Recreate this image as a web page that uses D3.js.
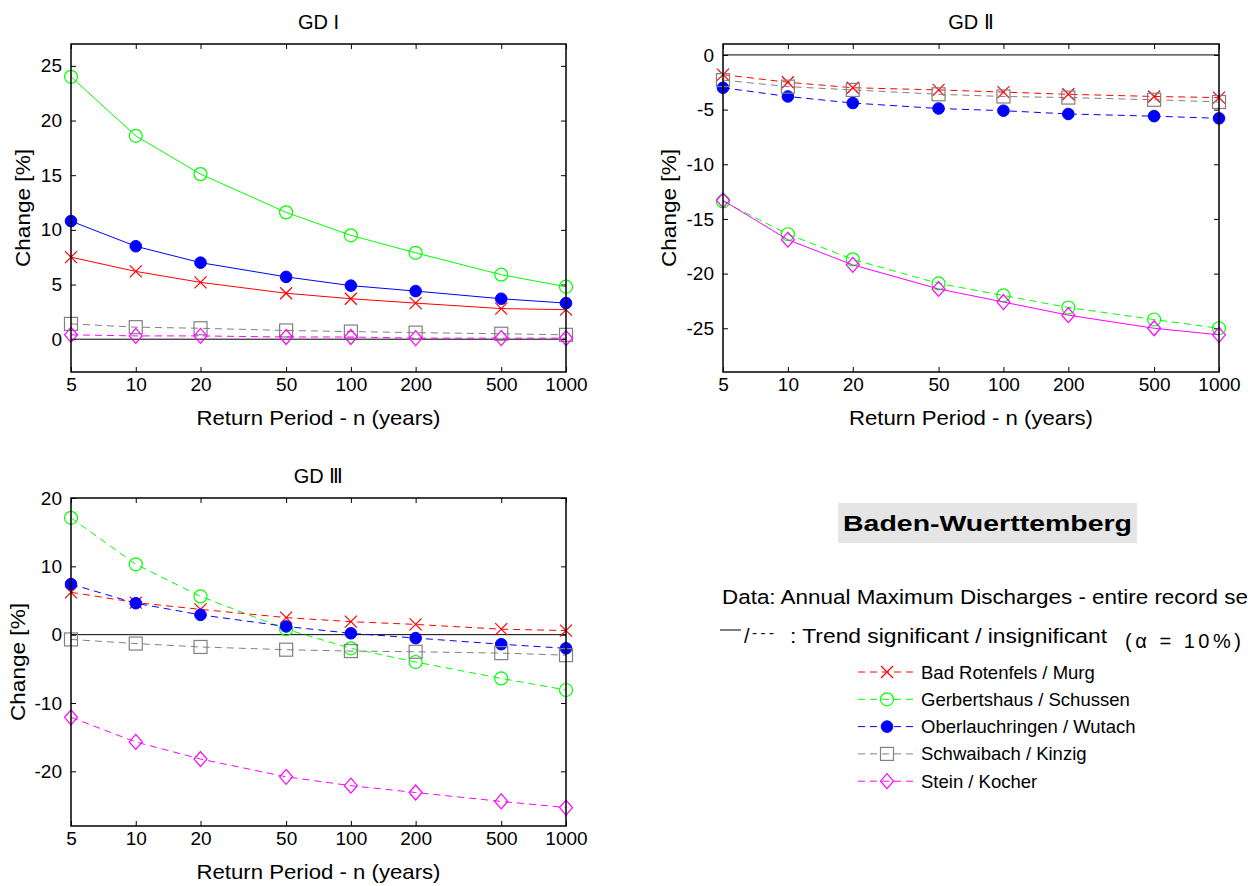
<!DOCTYPE html>
<html>
<head>
<meta charset="utf-8">
<script src="https://cdn.jsdelivr.net/npm/d3@7"></script>
<style>
  body { margin: 0; background: #fff; }
  svg { display: block; font-family: Arial, "Liberation Sans", Helvetica, sans-serif; }
</style>
</head>
<body>
<div id="chart"></div>
<script>
// return periods (x axis, log scale)
let periods = [5, 10, 20, 50, 100, 200, 500, 1000]

let stations = [
    "Bad Rotenfels / Murg",
    "Gerbertshaus / Schussen",
    "Oberlauchringen / Wutach",
    "Schwaibach / Kinzig",
    "Stein / Kocher"
]
let stationColors = ["#ff0000", "#00ff00", "#0000ff", "#808080", "#ff00ff"]
let stationMarkers = ["x", "circle", "dot", "square", "diamond"]

// GD I values [%] per station
let gd1Values = [
    [7.5, 6.2, 5.2, 4.2, 3.7, 3.3, 2.8, 2.7],
    [24.0, 18.6, 15.1, 11.6, 9.5, 7.9, 5.9, 4.8],
    [10.8, 8.5, 7.0, 5.7, 4.9, 4.4, 3.7, 3.3],
    [1.4, 1.1, 1.0, 0.8, 0.7, 0.6, 0.5, 0.4],
    [0.4, 0.3, 0.3, 0.2, 0.2, 0.1, 0.1, 0.1]
]
let gd1Significant = [true, true, true, false, false]

// GD II values [%]
let gd2Values = [
    [-1.8, -2.5, -3.0, -3.2, -3.4, -3.6, -3.8, -3.9],
    [-13.4, -16.4, -18.7, -20.9, -22.0, -23.1, -24.2, -25.0],
    [-3.0, -3.8, -4.4, -4.9, -5.1, -5.4, -5.6, -5.8],
    [-2.3, -2.9, -3.2, -3.6, -3.8, -3.9, -4.1, -4.3],
    [-13.3, -16.9, -19.2, -21.4, -22.6, -23.8, -25.0, -25.6]
]
let gd2Significant = [false, false, false, false, true]

// GD III values [%]
let gd3Values = [
    [6.2, 4.7, 3.7, 2.5, 1.9, 1.5, 0.8, 0.6],
    [17.1, 10.3, 5.6, 0.8, -2.0, -4.0, -6.4, -8.1],
    [7.4, 4.6, 2.9, 1.2, 0.2, -0.5, -1.4, -2.0],
    [-0.7, -1.3, -1.8, -2.2, -2.4, -2.5, -2.7, -3.0],
    [-12.1, -15.7, -18.2, -20.8, -22.1, -23.1, -24.4, -25.3]
]
let gd3Significant = [false, false, false, false, false]

let gd1Ticks = [0, 5, 10, 15, 20, 25]
let gd2Ticks = [-25, -20, -15, -10, -5, 0]
let gd3Ticks = [-20, -10, 0, 10, 20]

let svgWidth = 1248, svgHeight = 886

let svg = d3.select("#chart")
    .append("svg")
    .attr("width", svgWidth)
    .attr("height", svgHeight)

let panels = [
    {title: "GD I", values: gd1Values, sig: gd1Significant, ticks: gd1Ticks, domain: [-3, 27],
     left: 71, right: 566, top: 44, bottom: 372, yLabelOffset: 49},
    {title: "GD \u2161", values: gd2Values, sig: gd2Significant, ticks: gd2Ticks, domain: [-29, 1],
     left: 723, right: 1219, top: 44, bottom: 372, yLabelOffset: 55},
    {title: "GD \u2162", values: gd3Values, sig: gd3Significant, ticks: gd3Ticks, domain: [-28, 20],
     left: 71, right: 566, top: 498, bottom: 826, yLabelOffset: 54}
]

// draws one marker centred at (x, y)
function drawMarker(g, type, color, x, y) {
    if (type === "x") {
        g.append("path")
            .attr("d", `M${x-6},${y-6}L${x+6},${y+6}M${x-6},${y+6}L${x+6},${y-6}`)
            .attr("stroke", color).attr("stroke-width", 1.2).attr("fill", "none")
    } else if (type === "circle") {
        g.append("circle").attr("cx", x).attr("cy", y).attr("r", 6.5)
            .attr("stroke", color).attr("stroke-width", 1.2).attr("fill", "none")
    } else if (type === "dot") {
        g.append("circle").attr("cx", x).attr("cy", y).attr("r", 5.8)
            .attr("stroke", color).attr("fill", color)
    } else if (type === "square") {
        g.append("rect").attr("x", x - 6.5).attr("y", y - 6.5).attr("width", 13).attr("height", 13)
            .attr("stroke", color).attr("stroke-width", 1.2).attr("fill", "none")
    } else if (type === "diamond") {
        g.append("path")
            .attr("d", `M${x},${y-7.5}L${x+6.5},${y}L${x},${y+7.5}L${x-6.5},${y}Z`)
            .attr("stroke", color).attr("stroke-width", 1.2).attr("fill", "none")
    }
}

let fmt = d => String(d)

panels.forEach(function(p) {
    let xScale = d3.scaleLog().domain([5, 1000]).range([p.left, p.right])
    let yScale = d3.scaleLinear().domain(p.domain).range([p.bottom, p.top])

    let g = svg.append("g")

    // axes with inward ticks on all four sides
    let bottomAxis = d3.axisBottom(xScale).tickValues(periods).tickFormat(fmt).tickSize(-5).tickPadding(6)
    let topAxis = d3.axisTop(xScale).tickValues(periods).tickFormat("").tickSize(-5)
    let leftAxis = d3.axisLeft(yScale).tickValues(p.ticks).tickFormat(fmt).tickSize(-5).tickPadding(9)
    let rightAxis = d3.axisRight(yScale).tickValues(p.ticks).tickFormat("").tickSize(-5)

    let xAxisG = g.append("g").attr("transform", `translate(0, ${p.bottom})`).call(bottomAxis)
    g.append("g").attr("transform", `translate(0, ${p.top})`).call(topAxis)
    let yAxisG = g.append("g").attr("transform", `translate(${p.left}, 0)`).call(leftAxis)
    g.append("g").attr("transform", `translate(${p.right}, 0)`).call(rightAxis)

    g.selectAll(".domain").remove()
    g.selectAll("g").attr("font-family", null).attr("font-size", null)
    g.selectAll(".tick line").attr("stroke", "#000").attr("stroke-width", 1)
    xAxisG.selectAll("text").attr("font-size", 19).attr("fill", "#000")
    yAxisG.selectAll("text").attr("font-size", 19).attr("fill", "#000")

    // zero line
    g.append("line")
        .attr("x1", p.left).attr("x2", p.right)
        .attr("y1", yScale(0)).attr("y2", yScale(0))
        .attr("stroke", "#000").attr("stroke-width", 1)

    // series
    let line = d3.line()
        .x((d, i) => xScale(periods[i]))
        .y(d => yScale(d))

    p.values.forEach(function(vals, s) {
        g.append("path")
            .datum(vals)
            .attr("d", line)
            .attr("fill", "none")
            .attr("stroke", stationColors[s])
            .attr("stroke-width", 1)
            .attr("stroke-dasharray", p.sig[s] ? null : "7,5")
        vals.forEach(function(v, i) {
            drawMarker(g, stationMarkers[s], stationColors[s], xScale(periods[i]), yScale(v))
        })
    })

    // frame
    g.append("rect")
        .attr("x", p.left).attr("y", p.top)
        .attr("width", p.right - p.left).attr("height", p.bottom - p.top)
        .attr("fill", "none").attr("stroke", "#000").attr("stroke-width", 1.5)

    let cx = (p.left + p.right) / 2
    // title
    g.append("text")
        .attr("x", cx).attr("y", p.top - 15)
        .attr("text-anchor", "middle")
        .attr("font-size", 20)
        .text(p.title)
    // x label
    g.append("text")
        .attr("x", cx).attr("y", p.bottom + 53)
        .attr("text-anchor", "middle")
        .attr("font-size", 21)
        .attr("textLength", 244)
        .attr("lengthAdjust", "spacingAndGlyphs")
        .text("Return Period - n (years)")
    // y label
    g.append("text")
        .attr("transform", `translate(${p.left - p.yLabelOffset + 8}, ${(p.top + p.bottom) / 2}) rotate(-90)`)
        .attr("text-anchor", "middle")
        .attr("font-size", 21)
        .attr("textLength", 118)
        .attr("lengthAdjust", "spacingAndGlyphs")
        .text("Change [%]")
})

// info block
let info = svg.append("g")

info.append("rect")
    .attr("x", 838).attr("y", 503)
    .attr("width", 299).attr("height", 40)
    .attr("fill", "#e5e5e5")
info.append("text")
    .attr("x", 843).attr("y", 531)
    .attr("font-size", 22)
    .attr("font-weight", "bold")
    .attr("textLength", 289)
    .attr("lengthAdjust", "spacingAndGlyphs")
    .text("Baden-Wuerttemberg")

info.append("text")
    .attr("x", 722).attr("y", 604)
    .attr("font-size", 20.5)
    .attr("textLength", 562)
    .attr("lengthAdjust", "spacingAndGlyphs")
    .text("Data: Annual Maximum Discharges - entire record series")

info.append("line")
    .attr("x1", 720).attr("x2", 741).attr("y1", 630).attr("y2", 630)
    .attr("stroke", "#000").attr("stroke-width", 1)
info.append("text")
    .attr("x", 744).attr("y", 643)
    .attr("font-size", 20)
    .text("/")
info.append("text")
    .attr("x", 752).attr("y", 638)
    .attr("font-size", 15)
    .attr("textLength", 22)
    .attr("lengthAdjust", "spacing")
    .text("- - -")
info.append("text")
    .attr("x", 790).attr("y", 643)
    .attr("font-size", 20)
    .attr("textLength", 317)
    .attr("lengthAdjust", "spacingAndGlyphs")
    .text(": Trend significant / insignificant")

info.append("text")
    .attr("x", 1125).attr("y", 648)
    .attr("font-size", 20)
    .attr("textLength", 116)
    .attr("lengthAdjust", "spacing")
    .text("(\u03b1 = 10%)")

// legend
let legend = svg.append("g")
stations.forEach(function(name, s) {
    let y = 672 + s * 27.3
    legend.append("line")
        .attr("x1", 858).attr("x2", 917)
        .attr("y1", y).attr("y2", y)
        .attr("stroke", stationColors[s])
        .attr("stroke-width", 1)
        .attr("stroke-dasharray", "7,5")
    drawMarker(legend, stationMarkers[s], stationColors[s], 887, y)
    legend.append("text")
        .attr("x", 921).attr("y", y + 6.5)
        .attr("font-size", 18.5)
        .text(name)
})
</script>
</body>
</html>
